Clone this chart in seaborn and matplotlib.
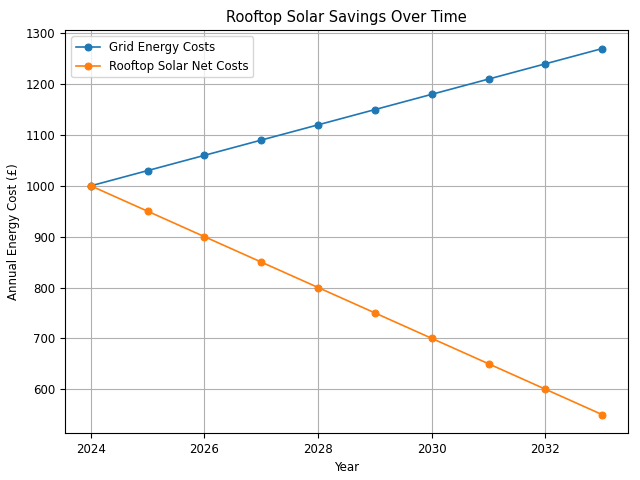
import matplotlib
matplotlib.use("Agg")
import matplotlib.pyplot as plt
import seaborn as sns
import pandas as pd

years = [2024, 2025, 2026, 2027, 2028, 2029, 2030, 2031, 2032, 2033]
grid_costs = [1000, 1030, 1060, 1090, 1120, 1150, 1180, 1210, 1240, 1270]
solar_costs = [1000, 950, 900, 850, 800, 750, 700, 650, 600, 550]

plt.rcParams["font.size"] = 8.5

df = pd.DataFrame({
    "Year": years * 2,
    "Cost": grid_costs + solar_costs,
    "Series": ["Grid Energy Costs"] * len(years) + ["Rooftop Solar Net Costs"] * len(years),
})

fig, ax = plt.subplots(figsize=(6.4, 4.8), dpi=100)
sns.lineplot(data=df, x="Year", y="Cost", hue="Series", marker="o",
             palette=["#1f77b4", "#ff7f0e"], markeredgecolor=None, markersize=5,
             linewidth=1.2, ax=ax)
ax.set_title("Rooftop Solar Savings Over Time", fontsize=10.5)
ax.set_xlabel("Year")
ax.set_ylabel("Annual Energy Cost (£)")
ax.grid(True)
ax.legend(title=None, loc="upper left")
fig.subplots_adjust(left=0.102, right=0.981, top=0.937, bottom=0.098)
fig.savefig("out.png")
